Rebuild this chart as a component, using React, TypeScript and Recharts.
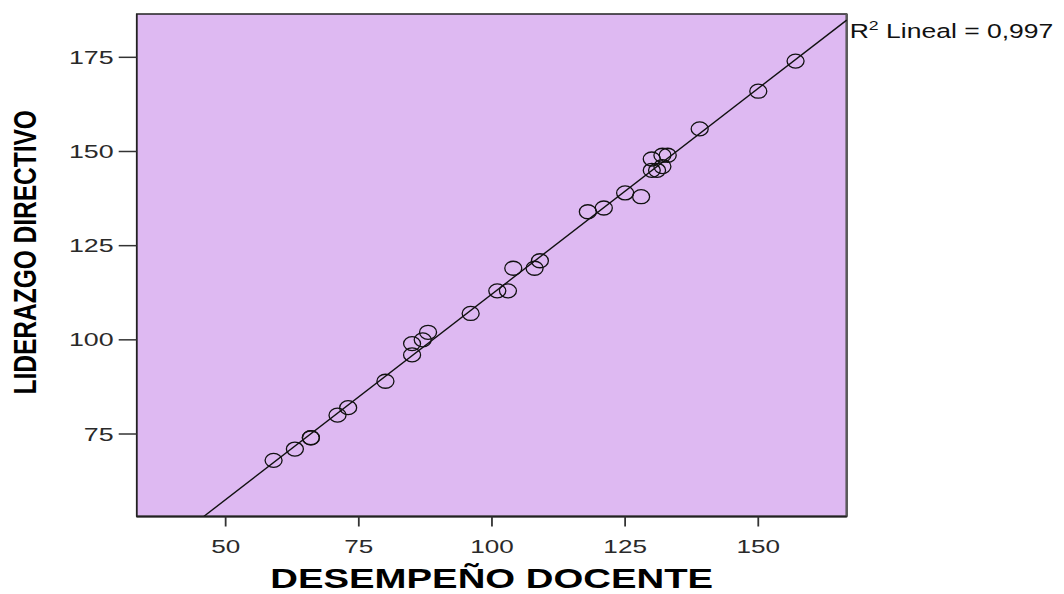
import React from 'react';
import { ComposedChart, Scatter, XAxis, YAxis, ReferenceArea, ReferenceLine } from 'recharts';

// Scores per respondent
const desempenoDocente = [59, 63, 66, 66, 71, 73, 80, 85, 85, 87, 88, 96, 101, 103, 104, 108, 109, 118, 121, 125, 128, 130, 131, 132, 130, 132, 133, 139, 150, 157];
const liderazgoDirectivo = [68, 71, 74, 74, 80, 82, 89, 96, 99, 100, 102, 107, 113, 113, 119, 119, 121, 134, 135, 139, 138, 145, 145, 146, 148, 149, 149, 156, 166, 174];

const xTicks = [50, 75, 100, 125, 150];
const yTicks = [75, 100, 125, 150, 175];
const xDomain: [number, number] = [33.3, 166.6];
const yDomain: [number, number] = [53.1, 186.5];
const xTitle = 'DESEMPEÑO DOCENTE';
const yTitle = 'LIDERAZGO DIRECTIVO';
const r2Text = 'Lineal = 0,997';

const FONT = "Arial, 'Liberation Sans', Helvetica, sans-serif";
const PLOT_BG = '#DEB9F2';
const STRETCH = 1.45;

const points = desempenoDocente.map((x, i) => ({ x, y: liderazgoDirectivo[i] }));

// Ordinary least squares fit line
const n = points.length;
const meanX = points.reduce((s, p) => s + p.x, 0) / n;
const meanY = points.reduce((s, p) => s + p.y, 0) / n;
const sxy = points.reduce((s, p) => s + (p.x - meanX) * (p.y - meanY), 0);
const sxx = points.reduce((s, p) => s + (p.x - meanX) ** 2, 0);
const slope = sxy / sxx;
const intercept = meanY - slope * meanX;
const fitY = (x: number) => intercept + slope * x;
const fitStartX = Math.max(xDomain[0], (yDomain[0] - intercept) / slope);
const fitEndX = Math.min(xDomain[1], (yDomain[1] - intercept) / slope);
const fitSegment = [
  { x: fitStartX, y: fitY(fitStartX) },
  { x: fitEndX, y: fitY(fitEndX) },
];

const OpenCircle = (props: any) => {
  const { cx, cy } = props;
  if (cx == null || cy == null) return null;
  return <ellipse cx={cx} cy={cy} rx={8.5} ry={7} fill="none" stroke="#111" strokeWidth={1.3} />;
};

const XTick = (props: any) => {
  const { x, y, payload } = props;
  return (
    <text
      transform={`translate(${x},${y + 26}) scale(${STRETCH},1)`}
      textAnchor="middle"
      fontSize={18}
      fontFamily={FONT}
      fill="#2a2a2a"
    >
      {payload.value}
    </text>
  );
};

const YTick = (props: any) => {
  const { x, y, payload } = props;
  return (
    <text
      transform={`translate(${x - 5},${y + 6.5}) scale(${STRETCH},1)`}
      textAnchor="end"
      fontSize={18.5}
      fontFamily={FONT}
      fill="#2a2a2a"
    >
      {payload.value}
    </text>
  );
};

const XTitle = (props: any) => {
  const vb = props.viewBox || { x: 128.7, y: 508.5, width: 710, height: 77.5 };
  const cx = vb.x + vb.width / 2;
  return (
    <text
      transform={`translate(${cx},${vb.y + 71.5}) scale(1.42,1)`}
      textAnchor="middle"
      fontSize={27}
      fontWeight="bold"
      fontFamily={FONT}
      fill="#000"
    >
      {xTitle}
    </text>
  );
};

const YTitle = (props: any) => {
  const vb = props.viewBox || { x: 0, y: 6, width: 128.7, height: 502.5 };
  const cy = vb.y + vb.height / 2 - 13;
  return (
    <text
      transform={`translate(${vb.x + 17},${cy}) rotate(-90) scale(1,1.28)`}
      textAnchor="middle"
      dominantBaseline="central"
      fontSize={24.5}
      fontWeight="bold"
      fontFamily={FONT}
      fill="#000"
    >
      {yTitle}
    </text>
  );
};

const R2Label = (props: any) => {
  const vb = props.viewBox || { x: 0, y: 0, width: 0, height: 0 };
  const ex = vb.x + (vb.width || 0);
  const ey = vb.y;
  return (
    <text
      transform={`translate(${ex + 3},${ey + 18}) scale(1.36,1)`}
      fontSize={19.5}
      fontFamily={FONT}
      fill="#111"
    >
      R
      <tspan fontSize={13} dy={-8}>2</tspan>
      <tspan dy={8}> {r2Text}</tspan>
    </text>
  );
};

export default function App() {
  return (
    <div style={{ width: 1056, height: 586 }}>
      <ComposedChart
        width={1056}
        height={586}
        margin={{ top: 6, right: 217.3, bottom: 0, left: 0 }}
        style={{ fontFamily: FONT }}
      >
        <XAxis
          type="number"
          dataKey="x"
          domain={xDomain}
          ticks={xTicks}
          allowDataOverflow
          height={77.5}
          tickSize={10}
          tickMargin={0}
          tick={<XTick />}
          tickLine={{ stroke: '#333', strokeWidth: 1.8 }}
          axisLine={{ stroke: '#222', strokeWidth: 1.5 }}
          label={{ content: <XTitle /> }}
        />
        <YAxis
          type="number"
          dataKey="y"
          domain={yDomain}
          ticks={yTicks}
          allowDataOverflow
          width={128.7}
          tickSize={18}
          tickMargin={0}
          tick={<YTick />}
          tickLine={{ stroke: '#333', strokeWidth: 1.5 }}
          axisLine={{ stroke: '#222', strokeWidth: 1.5 }}
          label={{ content: <YTitle /> }}
        />
        <ReferenceArea
          x1={xDomain[0]}
          x2={xDomain[1]}
          y1={yDomain[0]}
          y2={yDomain[1]}
          fill={PLOT_BG}
          fillOpacity={1}
          stroke="#222"
          strokeWidth={1.5}
          ifOverflow="visible"
        />
        <ReferenceLine x={xDomain[1]} stroke="#5a5a5a" strokeWidth={2.5} ifOverflow="visible" />
        <ReferenceLine y={yDomain[0]} stroke="#4a4a4a" strokeWidth={2} ifOverflow="visible" />
        <ReferenceLine
          segment={fitSegment}
          stroke="#111"
          strokeWidth={1.4}
          ifOverflow="visible"
          label={{ content: <R2Label /> }}
        />
        <Scatter data={points} dataKey="y" shape={<OpenCircle />} isAnimationActive={false} />
      </ComposedChart>
    </div>
  );
}
